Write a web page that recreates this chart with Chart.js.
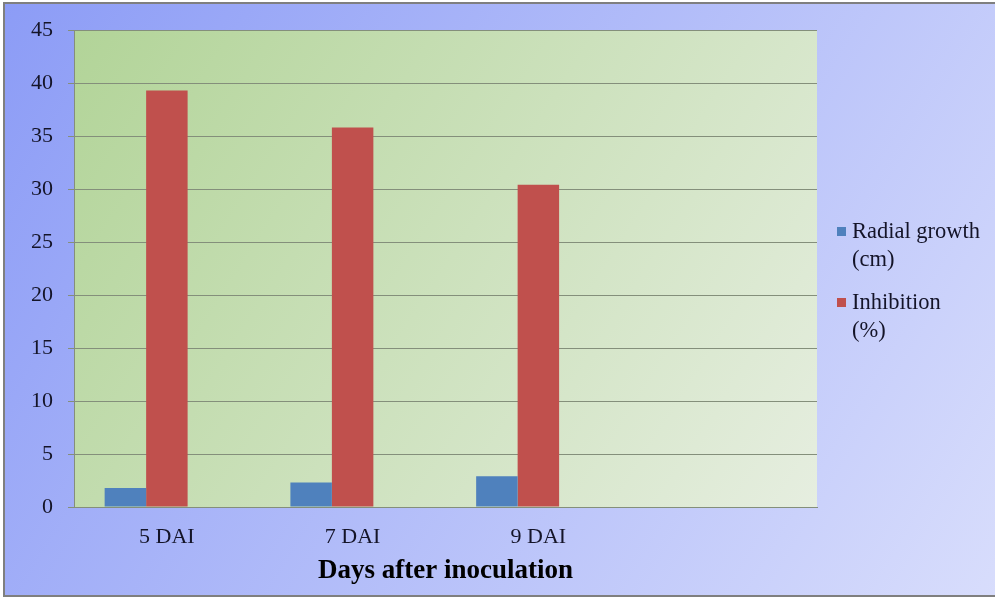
<!DOCTYPE html>
<html>
<head>
<meta charset="utf-8">
<script src="https://cdn.jsdelivr.net/npm/chart.js@4"></script>
<style>
  html, body { margin: 0; padding: 0; background: #ffffff; }
  #chart { display: block; }
</style>
</head>
<body>
<canvas id="chart" width="995" height="598"></canvas>
<script>
// Datos
const categories = ['5 DAI', '7 DAI', '9 DAI', ''];
const radialGrowth = [1.8, 2.3, 2.9, null];
const inhibition = [39.3, 35.8, 30.4, null];
const emptySeries = [null, null, null, null];
const legendLabels = [['Radial growth', '(cm)'], ['Inhibition', '(%)']];
const yTicks = { min: 0, max: 45, step: 5 };

const serif = "'Liberation Serif', 'Times New Roman', serif";
const blue = '#4f81bd';
const red = '#c0504d';
const gridColor = '#848f7b';
const textColor = '#141428';

// Fondos: marco azul exterior y área de gráfico verde
const backgrounds = {
    id: 'backgrounds',
    beforeDraw: (chart) => {
        const ctx = chart.ctx;
        const { width, height } = chart;
        ctx.save();
        ctx.fillStyle = '#ffffff';
        ctx.fillRect(0, 0, width, height);

        const outer = ctx.createLinearGradient(4, 3, width, height);
        outer.addColorStop(0, '#8c9cf6');
        outer.addColorStop(1, '#d8ddfc');
        ctx.fillStyle = outer;
        ctx.fillRect(4, 3, width - 4, height - 5);

        ctx.strokeStyle = '#7f7f7f';
        ctx.lineWidth = 2;
        ctx.strokeRect(4, 3, width + 10, height - 5);

        const a = chart.chartArea;
        const inner = ctx.createLinearGradient(a.left, a.top, a.right, a.bottom);
        inner.addColorStop(0, '#b2d498');
        inner.addColorStop(1, '#e6eee0');
        ctx.fillStyle = inner;
        ctx.fillRect(a.left, a.top, a.right - a.left, a.bottom - a.top);
        ctx.restore();
    }
};

// Leyenda en dos líneas, dibujada a mano
const sideLegend = {
    id: 'sideLegend',
    afterDraw: (chart) => {
        const ctx = chart.ctx;
        const colors = [blue, red];
        const x = 837;
        const tops = [232, 303];
        const lineGap = 28;
        ctx.save();
        ctx.font = '22.5px ' + serif;
        ctx.textBaseline = 'middle';
        legendLabels.forEach((lines, i) => {
            ctx.fillStyle = colors[i];
            ctx.fillRect(x, tops[i] - 5, 9, 9);
            ctx.fillStyle = textColor;
            lines.forEach((line, j) => {
                ctx.fillText(line, x + 15, tops[i] + j * lineGap);
            });
        });
        ctx.restore();
    }
};

const config = {
    type: 'bar',
    data: {
        labels: categories,
        datasets: [
            { label: 'Radial growth (cm)', data: radialGrowth, backgroundColor: blue },
            { label: 'Inhibition (%)', data: inhibition, backgroundColor: red },
            { label: '', data: emptySeries, backgroundColor: 'transparent' }
        ]
    },
    options: {
        responsive: false,
        animation: false,
        categoryPercentage: 0.67,
        barPercentage: 1.0,
        layout: {
            padding: { left: 0, top: 30, right: 178, bottom: 0 }
        },
        plugins: {
            legend: { display: false },
            tooltip: { enabled: false }
        },
        scales: {
            x: {
                grid: { display: false, drawTicks: false },
                border: { display: true, color: gridColor, width: 1 },
                ticks: {
                    padding: 17,
                    color: textColor,
                    font: { family: serif, size: 22 }
                },
                title: {
                    display: true,
                    text: 'Days after inoculation',
                    color: '#000000',
                    font: { family: serif, size: 27, weight: 'bold' },
                    padding: { top: 0, bottom: 11 }
                },
                afterFit: (scale) => { scale.height = 91; }
            },
            y: {
                min: yTicks.min,
                max: yTicks.max,
                grid: { color: gridColor, lineWidth: 1, drawTicks: true, tickLength: 6 },
                border: { display: true, color: gridColor, width: 1 },
                ticks: {
                    stepSize: yTicks.step,
                    padding: 15,
                    color: textColor,
                    font: { family: serif, size: 22 }
                },
                afterFit: (scale) => { scale.width = 74; }
            }
        }
    },
    plugins: [backgrounds, sideLegend]
};

new Chart(document.getElementById('chart'), config);
</script>
</body>
</html>
